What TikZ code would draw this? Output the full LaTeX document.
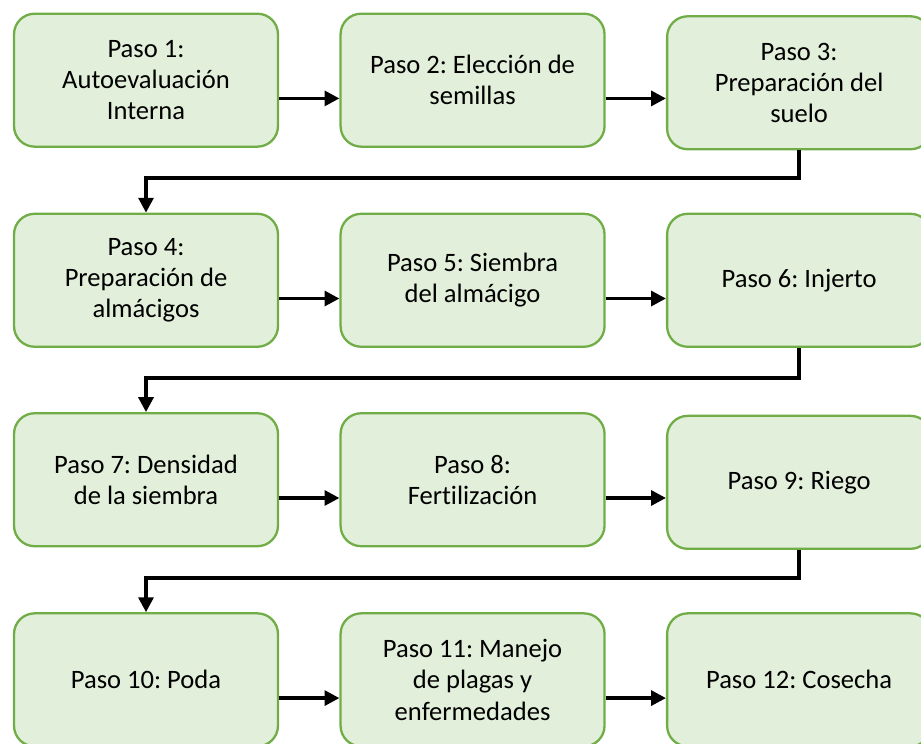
\documentclass[tikz,border=0pt]{standalone}
\usepackage{fontspec}
\setmainfont{Carlito}[Ligatures=NoCommon]
\frenchspacing
\definecolor{pasoborde}{RGB}{112, 173, 71}
\definecolor{pasofondo}{RGB}{226, 239, 218}
\usetikzlibrary{arrows.meta, positioning}

\begin{document}
\begin{tikzpicture}[
  paso/.style={draw=pasoborde, fill=pasofondo, line width=1pt, rounded corners=9pt,
    minimum width=4.05cm, minimum height=2.04cm, align=center, font=\fontsize{11.6}{13.6}\selectfont},
  flecha/.style={line width=1.5pt, -{Triangle[length=6.5pt, width=6.5pt]}},
  codo/.style={line width=1.5pt, rounded corners=0pt, -{Triangle[length=6.5pt, width=6.5pt]}}
]
  \useasboundingbox (0, 0) rectangle (14.13, -11.40);

  % Fila 1
  \node[paso] (p1) at (2.24, -1.23) {Paso 1:\\Autoevaluación\\Interna};
  \node[paso] (p2) at (7.25, -1.23) {Paso 2: Elección de\\semillas};
  \node[paso] (p3) at (12.26, -1.27) {Paso 3:\\Preparación del\\suelo};

  % Fila 2
  \node[paso] (p4) at (2.24, -4.30) {Paso 4:\\Preparación de\\almácigos};
  \node[paso] (p5) at (7.25, -4.30) {Paso 5: Siembra\\del almácigo};
  \node[paso] (p6) at (12.26, -4.30) {Paso 6: Injerto};

  % Fila 3
  \node[paso] (p7) at (2.24, -7.36) {Paso 7: Densidad\\de la siembra};
  \node[paso] (p8) at (7.25, -7.36) {Paso 8:\\Fertilización};
  \node[paso] (p9) at (12.26, -7.40) {Paso 9: Riego};

  % Fila 4
  \node[paso] (p10) at (2.24, -10.43) {Paso 10: Poda};
  \node[paso] (p11) at (7.25, -10.43) {Paso 11: Manejo\\de plagas y\\enfermedades};
  \node[paso] (p12) at (12.26, -10.43) {Paso 12: Cosecha};

  % Flechas horizontales
  \draw[flecha] ([yshift=-0.28cm]p1.east) -- ([yshift=-0.28cm]p2.west);
  \draw[flecha] ([yshift=-0.28cm]p2.east) -- ([yshift=-0.28cm]p2.east -| p3.west);
  \draw[flecha] ([yshift=-0.28cm]p4.east) -- ([yshift=-0.28cm]p5.west);
  \draw[flecha] ([yshift=-0.28cm]p5.east) -- ([yshift=-0.28cm]p6.west);
  \draw[flecha] ([yshift=-0.28cm]p7.east) -- ([yshift=-0.28cm]p8.west);
  \draw[flecha] ([yshift=-0.28cm]p8.east) -- ([yshift=-0.28cm]p8.east -| p9.west);
  \draw[flecha] ([yshift=-0.28cm]p10.east) -- ([yshift=-0.28cm]p11.west);
  \draw[flecha] ([yshift=-0.28cm]p11.east) -- ([yshift=-0.28cm]p12.west);

  % Cambios de fila
  \draw[codo] (p3.south) |- (2.24, -2.73) -- (p4.north);
  \draw[codo] (p6.south) |- (2.24, -5.80) -- (p7.north);
  \draw[codo] (p9.south) |- (2.24, -8.87) -- (p10.north);
\end{tikzpicture}
\end{document}
